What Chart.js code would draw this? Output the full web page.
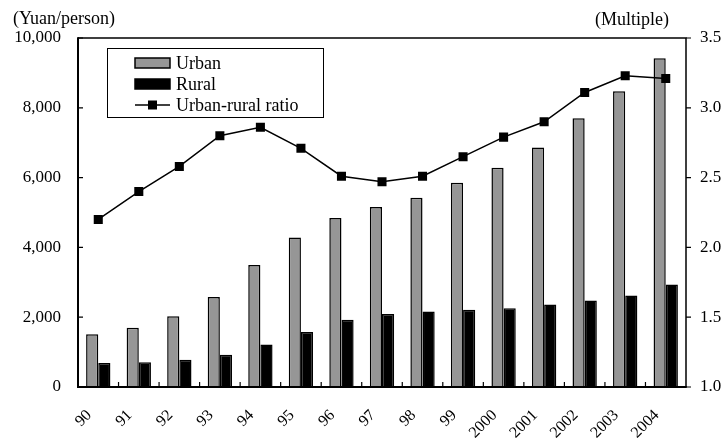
<!DOCTYPE html>
<html>
<head>
<meta charset="utf-8">
<script src="https://cdn.jsdelivr.net/npm/chart.js@4/dist/chart.umd.min.js"></script>
<style>
  html, body { margin: 0; padding: 0; background: #fff; }
  #c { display: block; }
</style>
</head>
<body>
<canvas id="c" width="724" height="440"></canvas>
<script>
// Per-capita income, urban vs rural, 1990-2004
const years = ['90', '91', '92', '93', '94', '95', '96', '97', '98', '99',
               '2000', '2001', '2002', '2003', '2004'];
const urbanIncome = [1510, 1701, 2027, 2577, 3496, 4283, 4839, 5160, 5425, 5854,
                     6280, 6860, 7703, 8472, 9422];
const ruralIncome = [686, 709, 784, 922, 1221, 1578, 1926, 2090, 2162, 2210,
                     2253, 2366, 2476, 2622, 2936];
const urbanRuralRatio = [2.20, 2.40, 2.58, 2.80, 2.86, 2.71, 2.51, 2.47, 2.51, 2.65,
                         2.79, 2.90, 3.11, 3.23, 3.21];
const incomeTicks = [0, 2000, 4000, 6000, 8000, 10000];
const multipleTicks = [1.0, 1.5, 2.0, 2.5, 3.0, 3.5];

const FONT = '"Liberation Serif", "Times New Roman", serif';
const GREY = '#969696';

// Frame, inward/outward tick marks, unit captions and the boxed legend
const decorations = {
  id: 'decorations',
  afterDatasetsDraw(chart) {
    const { ctx, chartArea: a, scales } = chart;
    const x = scales.x, y = scales.y, y1 = scales.y1;
    ctx.save();
    ctx.strokeStyle = '#000';
    ctx.lineCap = 'butt';

    // top and right edges
    ctx.lineWidth = 1.5;
    ctx.beginPath();
    ctx.moveTo(a.left, a.top); ctx.lineTo(a.right, a.top); ctx.lineTo(a.right, a.bottom);
    ctx.stroke();
    // left and bottom axis lines
    ctx.lineWidth = 2;
    ctx.beginPath();
    ctx.moveTo(a.left, a.top - 0.75); ctx.lineTo(a.left, a.bottom); ctx.lineTo(a.right + 0.75, a.bottom);
    ctx.stroke();

    ctx.lineWidth = 1.2;
    ctx.beginPath();
    // category boundary ticks pointing up into the plot
    const n = years.length;
    for (let i = 1; i < n; i++) {
      const px = (x.getPixelForValue(i - 1) + x.getPixelForValue(i)) / 2;
      ctx.moveTo(px, a.bottom); ctx.lineTo(px, a.bottom - 5);
    }
    // left axis ticks pointing inward
    incomeTicks.forEach(v => {
      const py = y.getPixelForValue(v);
      ctx.moveTo(a.left, py); ctx.lineTo(a.left + 5, py);
    });
    // right axis ticks pointing outward
    multipleTicks.forEach(v => {
      const py = y1.getPixelForValue(v);
      ctx.moveTo(a.right, py); ctx.lineTo(a.right + 5, py);
    });
    ctx.stroke();

    // unit captions
    ctx.fillStyle = '#000';
    ctx.font = '18px ' + FONT;
    ctx.textBaseline = 'middle';
    ctx.textAlign = 'left';
    ctx.fillText('(Yuan/person)', 13, 19);
    ctx.textAlign = 'right';
    ctx.fillText('(Multiple)', 669, 20);

    // legend
    const ds = chart.data.datasets;
    const bx = 107, by = 48, bw = 216, bh = 69;
    ctx.fillStyle = '#fff';
    ctx.fillRect(bx, by, bw, bh);
    ctx.lineWidth = 1;
    ctx.strokeStyle = '#000';
    ctx.strokeRect(bx + 0.5, by + 0.5, bw, bh);

    const rowY = [63, 84, 105];
    const px0 = 135, px1 = 170;
    ds.forEach((d, i) => {
      const cy = rowY[i];
      if (d.type === 'line') {
        ctx.strokeStyle = d.borderColor;
        ctx.lineWidth = d.borderWidth;
        ctx.beginPath();
        ctx.moveTo(px0, cy); ctx.lineTo(px1, cy);
        ctx.stroke();
        ctx.fillStyle = d.pointBackgroundColor;
        ctx.fillRect((px0 + px1) / 2 - 4.5, cy - 4.5, 9, 9);
      } else {
        ctx.fillStyle = d.backgroundColor;
        ctx.fillRect(px0, cy - 5, px1 - px0, 10);
        ctx.strokeStyle = '#000';
        ctx.lineWidth = 1.5;
        ctx.strokeRect(px0, cy - 5, px1 - px0, 10);
      }
      ctx.fillStyle = '#000';
      ctx.font = '18px ' + FONT;
      ctx.textAlign = 'left';
      ctx.textBaseline = 'middle';
      ctx.fillText(d.label, 176, cy + 1);
    });
    ctx.restore();
  }
};

new Chart(document.getElementById('c'), {
  data: {
    labels: years,
    datasets: [
      {
        type: 'bar', label: 'Urban', data: urbanIncome, yAxisID: 'y', order: 2,
        backgroundColor: GREY, borderColor: '#000', borderWidth: 1.5,
        categoryPercentage: 0.6, barPercentage: 1.0
      },
      {
        type: 'bar', label: 'Rural', data: ruralIncome, yAxisID: 'y', order: 2,
        backgroundColor: '#000', borderColor: '#000', borderWidth: 1.5,
        categoryPercentage: 0.6, barPercentage: 1.0
      },
      {
        type: 'line', label: 'Urban-rural ratio', data: urbanRuralRatio, yAxisID: 'y1', order: 0,
        borderColor: '#000', borderWidth: 1.5, tension: 0,
        pointStyle: 'rect', pointRadius: 6.4, pointBackgroundColor: '#000',
        pointBorderColor: '#000', pointBorderWidth: 0
      }
    ]
  },
  options: {
    responsive: false,
    animation: false,
    layout: { padding: { top: 38, left: 0, right: 0, bottom: 0 } },
    plugins: { legend: { display: false }, tooltip: { enabled: false } },
    scales: {
      x: {
        type: 'category', offset: true,
        grid: { display: false, drawTicks: false },
        border: { display: false },
        ticks: {
          color: '#000', font: { family: FONT, size: 16 },
          minRotation: 45, maxRotation: 45, autoSkip: false, padding: 19, labelOffset: -9
        },
        afterFit(s) { s.height = 53; }
      },
      y: {
        position: 'left', min: 0, max: 10000,
        grid: { display: false, drawTicks: false },
        border: { display: false },
        ticks: {
          stepSize: 2000, color: '#000', font: { family: FONT, size: 17 }, padding: 17,
          callback: v => v.toLocaleString('en-US')
        },
        afterFit(s) { s.width = 78; }
      },
      y1: {
        position: 'right', min: 1, max: 3.5,
        grid: { display: false, drawTicks: false },
        border: { display: false },
        ticks: {
          stepSize: 0.5, color: '#000', font: { family: FONT, size: 17 }, padding: 14,
          callback: v => Number(v).toFixed(1)
        },
        afterFit(s) { s.width = 38; }
      }
    }
  },
  plugins: [decorations]
});
</script>
</body>
</html>
